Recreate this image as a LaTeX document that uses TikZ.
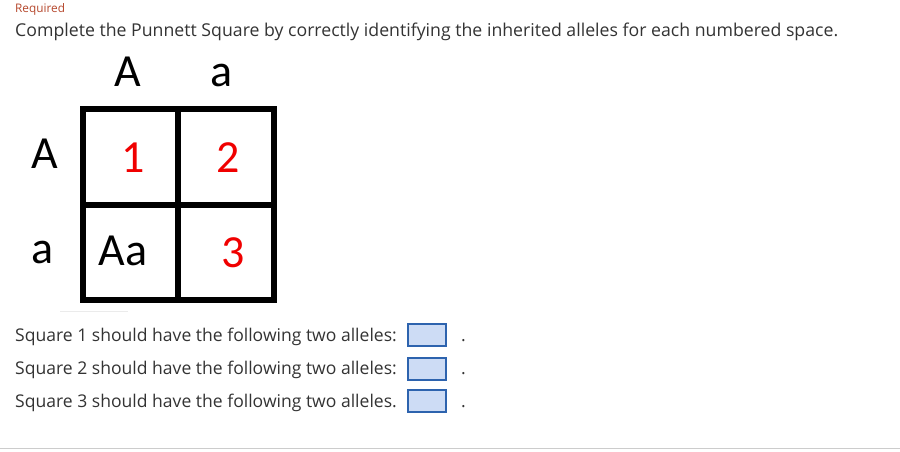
\documentclass[tikz,border=0pt]{standalone}
\usepackage{fontspec}
\setmainfont{Open Sans}
\newfontfamily\calib{Carlito}
\definecolor{reqred}{HTML}{B5472C}
\definecolor{txtgray}{HTML}{333333}
\definecolor{boxfill}{HTML}{CDDCF5}
\definecolor{boxline}{HTML}{2D63AE}
\definecolor{digred}{HTML}{F00000}
\tikzset{
  uitext/.style={anchor=base west, inner sep=0pt, text=txtgray, font=\fontsize{17.55}{20}\selectfont},
  allele/.style={anchor=base, inner sep=0pt, font=\calib\fontsize{46}{50}\selectfont},
  cellnum/.style={allele, text=digred},
  ansbox/.style={draw=boxline, line width=2pt, fill=boxfill, minimum width=38pt, minimum height=22pt, inner sep=0pt},
  gridline/.style={line width=5.5pt, line cap=rect}
}
\begin{document}
\begin{tikzpicture}[x=1pt,y=-1pt]
\useasboundingbox (0,0) rectangle (900,452);
\node[anchor=base west, inner sep=0pt, text=reqred, font=\fontsize{11.8}{14}\selectfont] (req) at (15,13) {Required};
\node[uitext, font=\fontsize{17.7}{20}\selectfont] (title) at (15,37) {Complete the Punnett Square by correctly identifying the inherited alleles for each numbered space.};
% column / row labels
\node[allele] (cA) at (128,87) {A};
\node[allele] (ca) at (222,87) {a};
\node[allele] (rA) at (45,168) {A};
\node[allele] (ra) at (43,263) {a};
% grid
\coordinate (tl) at (83,109);
\coordinate (br) at (274,300);
\coordinate (mt) at (178,109);
\coordinate (mb) at (178,300);
\coordinate (ml) at (83,205);
\coordinate (mr) at (274,205);
\draw[gridline] (tl) rectangle (br);
\draw[gridline] (mt) -- (mb);
\draw[gridline] (ml) -- (mr);
\node[cellnum] (n1) at (133,172) {1};
\node[cellnum] (n2) at (228,172) {2};
\node[allele] (aa) at (123,265) {Aa};
\node[cellnum] (n3) at (233,267) {3};
\coordinate (f1) at (60,311);
\coordinate (f2) at (128,311);
\draw[black!8, line width=1pt] (f1) -- (f2);
% questions
\node[uitext] (q1) at (15,341) {Square 1 should have the following two alleles:};
\node[uitext] (q2) at (15,374) {Square 2 should have the following two alleles:};
\node[uitext] (q3) at (15,407) {Square 3 should have the following two alleles.};
\node[ansbox] (b1) at (427,334.5) {};
\node[ansbox] (b2) at (427,368.5) {};
\node[ansbox] (b3) at (427,400.5) {};
\node[uitext] (d1) at (461,341) {.};
\node[uitext] (d2) at (461,374) {.};
\node[uitext] (d3) at (461,407) {.};
\coordinate (l1) at (0,448.5);
\coordinate (l2) at (900,448.5);
\draw[black!20, line width=1.5pt] (l1) -- (l2);
\end{tikzpicture}
\end{document}
